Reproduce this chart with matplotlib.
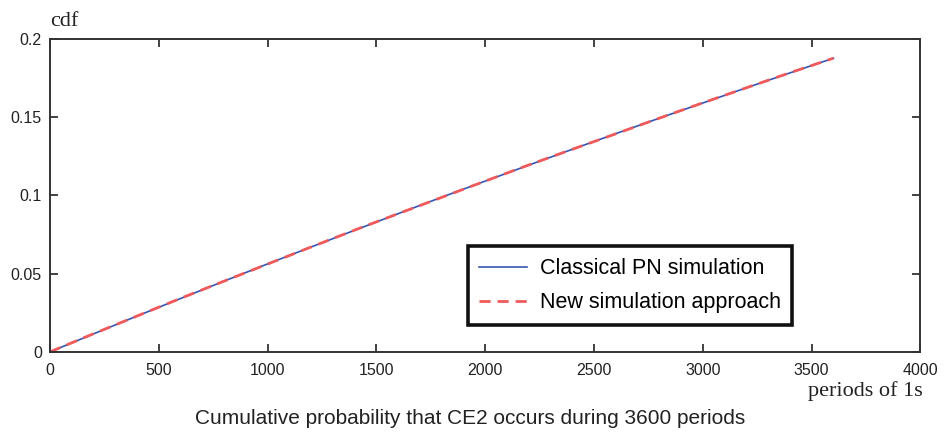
import matplotlib
matplotlib.use("Agg")
import matplotlib.pyplot as plt
from matplotlib.ticker import FixedLocator

# values
periods = [0, 200, 400, 600, 800, 1000, 1200, 1400, 1600, 1800, 2000,
           2200, 2400, 2600, 2800, 3000, 3200, 3400, 3600]
cdf_classical = [0, 0.0115, 0.0229, 0.0341, 0.0452, 0.0562, 0.0670, 0.0777,
                 0.0883, 0.0988, 0.1091, 0.1193, 0.1294, 0.1394, 0.1493,
                 0.1590, 0.1687, 0.1782, 0.1876]
cdf_new = [0, 0.0116, 0.0229, 0.0342, 0.0452, 0.0561, 0.0670, 0.0778,
           0.0883, 0.0987, 0.1091, 0.1194, 0.1294, 0.1393, 0.1493,
           0.1591, 0.1687, 0.1783, 0.1876]
xticks = [0, 500, 1000, 1500, 2000, 2500, 3000, 3500, 4000]
yticks = [0, 0.05, 0.1, 0.15, 0.2]
yticklabels = ["0", "0.05", "0.1", "0.15", "0.2"]

sans = "Liberation Sans"
serif = "Liberation Serif"

fig = plt.figure(figsize=(9.45, 4.36), dpi=100)
ax = fig.add_axes([0.053, 0.193, 0.921, 0.718])

ax.plot(periods, cdf_classical, color="#3a55b0", lw=1.2, label="Classical PN simulation")
ax.plot(periods, cdf_new, color="#f05a5a", lw=2.0, ls=(0, (4, 2.5)), label="New simulation approach")

ax.set_xlim(0, 4000)
ax.set_ylim(0, 0.2)
ax.xaxis.set_major_locator(FixedLocator(xticks))
ax.yaxis.set_major_locator(FixedLocator(yticks))
ax.set_yticklabels(yticklabels)
ax.tick_params(direction="in", length=6, width=1.3, color="#333333",
               top=True, right=True, labelsize=11.5)
ax.tick_params(axis="x", pad=8)
ax.tick_params(axis="y", pad=6)
for lbl in ax.get_xticklabels() + ax.get_yticklabels():
    lbl.set_fontfamily(sans)
    lbl.set_color("#222222")
for s in ax.spines.values():
    s.set_color("#333333")
    s.set_linewidth(1.4)

leg = ax.legend(loc="lower right", bbox_to_anchor=(0.853, 0.086),
                prop={"family": sans, "size": 15.5}, fancybox=False,
                framealpha=1, edgecolor="#111111", handlelength=2.2,
                handletextpad=0.6, borderpad=0.55, labelspacing=0.6,
                borderaxespad=0)
leg.get_frame().set_linewidth(2.6)

fig.text(0.053, 0.93, "cdf", family=serif, fontsize=16, color="#222222",
         ha="left", va="bottom")
fig.text(0.976, 0.102, "periods of 1s", family=serif, fontsize=16,
         color="#222222", ha="right", va="center")
fig.text(0.497, 0.04, "Cumulative probability that CE2 occurs during 3600 periods",
         family=sans, fontsize=15, color="#222222", ha="center", va="center")

fig.savefig("out.png", dpi=100)
